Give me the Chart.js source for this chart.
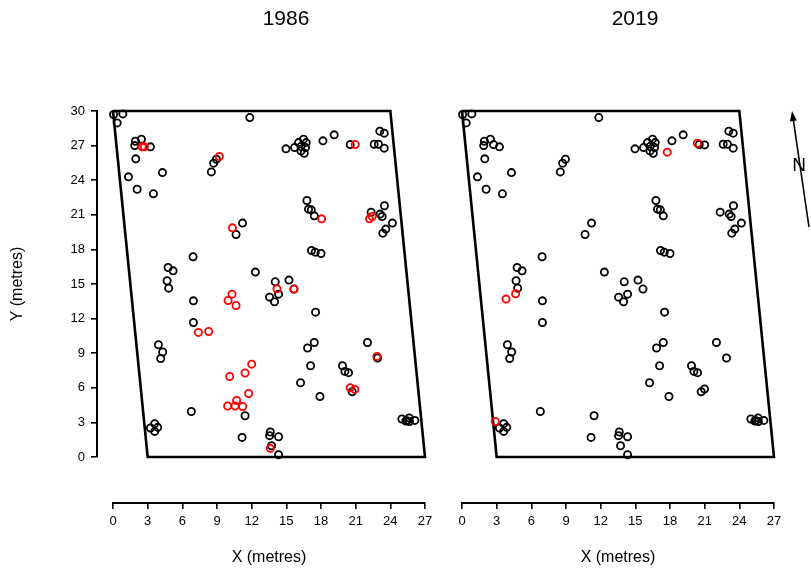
<!DOCTYPE html>
<html>
<head>
<meta charset="utf-8">
<script src="https://cdn.jsdelivr.net/npm/chart.js@4.4.1/dist/chart.umd.min.js"></script>
<style>
  body { margin: 0; background: #fff; }
  #wrap { position: relative; width: 811px; height: 571px; }
  canvas { position: absolute; top: 0; }
  #chart1986 { left: 0; }
  #chart2019 { left: 440px; }
</style>
</head>
<body>
<div id="wrap">
  <canvas id="chart1986" width="440" height="571"></canvas>
  <canvas id="chart2019" width="371" height="571"></canvas>
</div>
<script>
// trees drawn black in both years
const treesX = [0.05, 0.85, 0.36, 11.84, 1.94, 2.46, 1.88, 3.24, 1.97, 1.34,
  4.28, 2.09, 3.5, 8.51, 8.71, 8.95, 11.21, 10.65, 14.97, 15.71,
  16.06, 16.49, 16.72, 16.27, 16.66, 16.27, 16.55, 18.17, 19.14, 20.53,
  23.09, 23.47, 22.6, 22.97, 23.47, 16.78, 16.92, 17.16, 17.42, 22.34,
  23.12, 23.29, 23.49, 24.18, 23.61, 23.35, 6.93, 4.77, 5.2, 4.68,
  4.82, 6.96, 6.96, 3.93, 4.3, 4.13, 17.18, 17.5, 18.0, 12.32,
  14.04, 15.23, 13.55, 14.33, 13.98, 15.66, 17.53, 17.42, 16.84, 22.02,
  11.43, 11.17, 6.78, 3.24, 3.61, 3.87, 3.61, 17.1, 16.23, 17.91,
  19.86, 20.07, 20.38, 20.7, 22.89, 25.0, 25.34, 25.63, 25.65, 26.12,
  25.45, 13.61, 13.55, 14.33, 13.72, 14.33];
const treesY = [29.7, 29.75, 28.97, 29.43, 27.38, 27.56, 27.0, 26.89, 25.85, 24.29,
  24.66, 23.22, 22.82, 24.72, 25.48, 25.82, 20.28, 19.29, 26.72, 26.83,
  27.26, 27.56, 27.26, 26.92, 26.83, 26.54, 26.34, 27.41, 27.93, 27.09,
  28.25, 28.08, 27.12, 27.12, 26.78, 22.24, 21.49, 21.43, 20.91, 21.23,
  21.06, 20.85, 21.78, 20.28, 19.76, 19.41, 17.36, 16.43, 16.14, 15.28,
  14.64, 13.54, 11.66, 9.73, 9.1, 8.54, 17.9, 17.76, 17.64, 16.03,
  15.19, 15.34, 13.86, 14.12, 13.46, 14.56, 12.56, 9.93, 9.45, 9.93,
  3.58, 1.7, 3.95, 2.51, 2.89, 2.57, 2.22, 7.91, 6.44, 5.25,
  7.91, 7.42, 7.31, 5.66, 8.58, 3.29, 3.12, 3.38, 3.08, 3.17,
  3.15, 2.17, 1.85, 1.76, 0.98, 0.2];

// red ones in 1986
const red1986X = [2.52, 2.72, 9.2, 20.96, 18.05, 22.2, 22.43, 10.33, 10.3, 9.96,
  10.65, 7.39, 8.28, 14.19, 15.66, 10.1, 11.43, 12.0, 11.74, 9.92,
  10.7, 10.56, 11.22, 20.53, 20.93, 22.84, 13.61];
const red1986Y = [26.89, 26.89, 26.05, 27.09, 20.65, 20.65, 20.85, 19.87, 14.12, 13.57,
  13.14, 10.8, 10.88, 14.58, 14.56, 6.98, 7.28, 8.05, 5.51, 4.42,
  4.9, 4.42, 4.38, 6.0, 5.86, 8.72, 0.75];

// 2019 extra black ones and red ones
const black2019X = [2.73, 21.0, 20.99];
const black2019Y = [27.09, 27.06, 5.89];
const red2019X = [20.37, 17.76, 4.64, 3.81, 2.88];
const red2019Y = [27.2, 26.43, 14.15, 13.69, 3.08];

// plot boundary
const outlineX = [0, 24, 27, 3, 0];
const outlineY = [30, 30, 0, 0, 30];

const FONT = "'Liberation Sans', Arial, sans-serif";

function pts(xs, ys) {
  return xs.map((x, i) => ({ x: x, y: ys[i] }));
}

function circles(data, color) {
  return {
    data: data,
    xAxisID: 'x', yAxisID: 'y',
    pointStyle: 'circle',
    pointRadius: 3.6,
    pointBorderWidth: 1.8,
    borderColor: color,
    backgroundColor: 'rgba(0,0,0,0)',
    pointHoverRadius: 3.6,
    showLine: false,
    clip: false
  };
}

function outline() {
  return {
    data: pts(outlineX, outlineY),
    xAxisID: 'x', yAxisID: 'y',
    showLine: true,
    borderColor: '#000',
    borderWidth: 2.6,
    borderJoinStyle: 'miter',
    pointRadius: 0,
    pointHoverRadius: 0,
    tension: 0,
    clip: false
  };
}

const tickGrid = {
  display: true, drawOnChartArea: false, drawTicks: true,
  tickLength: 6, color: '#000', lineWidth: 1.6
};
const axisBorder = { display: true, color: '#000', width: 2 };

function gap(position, size) {
  return {
    type: 'linear', position: position, weight: 0, display: true,
    grid: { display: false }, border: { display: false }, ticks: { display: false },
    afterFit(s) {
      if (s.isHorizontal()) s.height = size; else s.width = size;
      s.paddingLeft = s.paddingRight = s.paddingTop = s.paddingBottom = 0;
    }
  };
}

function scales(showY) {
  return {
    x: {
      type: 'linear', position: 'bottom', weight: 1, min: 0, max: 27,
      ticks: { stepSize: 3, color: '#000', font: { family: FONT, size: 13 }, padding: 5, maxRotation: 0, autoSkip: false },
      grid: tickGrid,
      border: axisBorder,
      title: { display: true, text: 'X (metres)', color: '#000', font: { family: FONT, size: 16 }, padding: { top: 4, bottom: 4 } },
      afterFit(s) { s.height = 68; s.paddingLeft = 0; s.paddingRight = 0; }
    },
    y: {
      type: 'linear', position: 'left', weight: 1, min: 0, max: 30, display: showY,
      ticks: { stepSize: 3, color: '#000', font: { family: FONT, size: 13 }, padding: 6 },
      grid: tickGrid,
      border: axisBorder,
      title: { display: true, text: 'Y (metres)', color: '#000', font: { family: FONT, size: 16 }, padding: { top: 8, bottom: 0 } },
      afterFit(s) { s.width = showY ? 97 : 0; s.paddingTop = 0; s.paddingBottom = 0; }
    },
    xGap: gap('bottom', 46),
    yGap: gap('left', showY ? 16 : 0)
  };
}

const panelTitle = {
  id: 'panelTitle',
  afterDraw(chart, args, opts) {
    const ctx = chart.ctx;
    const area = chart.chartArea;
    ctx.save();
    ctx.font = '21px ' + FONT;
    ctx.fillStyle = '#000';
    ctx.textAlign = 'center';
    ctx.textBaseline = 'middle';
    ctx.fillText(opts.text, (area.left + area.right) / 2 + 17, 19);
    ctx.restore();
  }
};

const northArrow = {
  id: 'northArrow',
  afterDraw(chart) {
    const ctx = chart.ctx;
    const x0 = 369, y0 = 227, x1 = 352, y1 = 111;
    const ang = Math.atan2(y1 - y0, x1 - x0);
    ctx.save();
    ctx.strokeStyle = '#000';
    ctx.fillStyle = '#000';
    ctx.lineWidth = 1.6;
    ctx.beginPath();
    ctx.moveTo(x0, y0);
    ctx.lineTo(x1 + 6 * Math.cos(ang + Math.PI), y1 + 6 * Math.sin(ang + Math.PI));
    ctx.stroke();
    ctx.beginPath();
    ctx.moveTo(x1, y1);
    ctx.lineTo(x1 - 10 * Math.cos(ang) + 3.5 * Math.sin(ang), y1 - 10 * Math.sin(ang) - 3.5 * Math.cos(ang));
    ctx.lineTo(x1 - 10 * Math.cos(ang) - 3.5 * Math.sin(ang), y1 - 10 * Math.sin(ang) + 3.5 * Math.cos(ang));
    ctx.closePath();
    ctx.fill();
    ctx.font = '19px ' + FONT;
    ctx.textAlign = 'center';
    ctx.textBaseline = 'middle';
    ctx.fillText('N', 359, 166);
    ctx.restore();
  }
};

function makeChart(id, year, datasets, showY, padding, extra) {
  return new Chart(document.getElementById(id), {
    type: 'scatter',
    data: { datasets: datasets },
    options: {
      responsive: false,
      animation: false,
      layout: { padding: padding },
      scales: scales(showY),
      plugins: {
        legend: { display: false },
        tooltip: { enabled: false },
        panelTitle: { text: year }
      }
    },
    plugins: [panelTitle].concat(extra)
  });
}

makeChart('chart1986', '1986', [
  circles(pts(red1986X, red1986Y), '#ff0000'),
  circles(pts(treesX, treesY), '#000'),
  outline()
], true, { left: 0, top: 111, right: 15, bottom: 0 }, []);

makeChart('chart2019', '2019', [
  circles(pts(red2019X, red2019Y), '#ff0000'),
  circles(pts(treesX.concat(black2019X), treesY.concat(black2019Y)), '#000'),
  outline()
], false, { left: 22, top: 111, right: 37, bottom: 0 }, [northArrow]);
</script>
</body>
</html>
